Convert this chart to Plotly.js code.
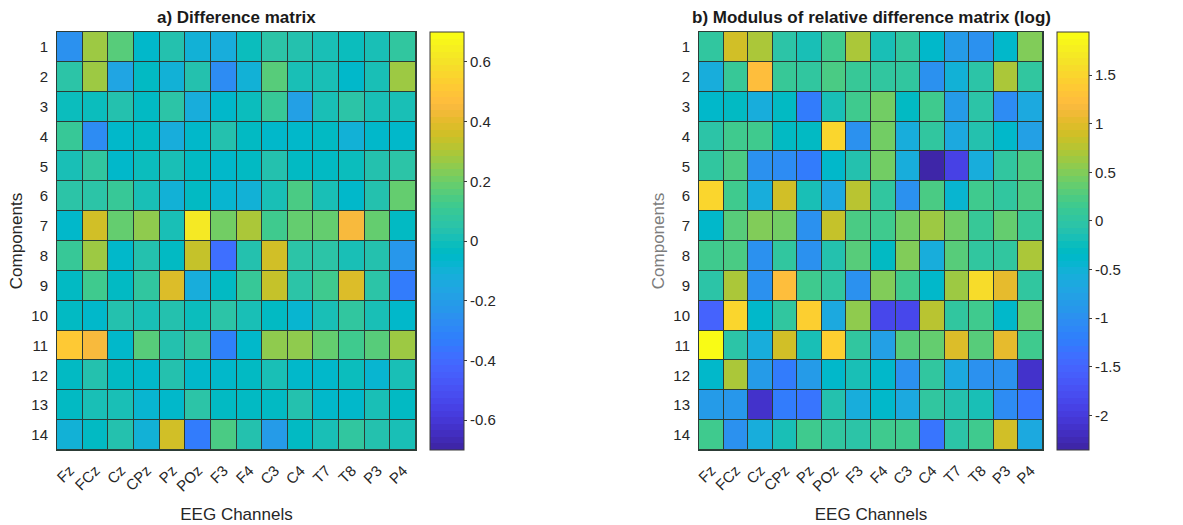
<!DOCTYPE html>
<html>
<head>
<meta charset="utf-8">
<script src="https://cdn.plot.ly/plotly-3.0.1.min.js"></script>
<style>
  html, body { margin: 0; padding: 0; background: #ffffff; }
  #chart { width: 1183px; height: 525px; }
</style>
</head>
<body>
<div id="chart"></div>
<script>
// EEG channel labels (x) and component indices (y)
const channels = ["Fz", "FCz", "Cz", "CPz", "Pz", "POz", "F3", "F4", "C3", "C4", "T7", "T8", "P3", "P4"];
const components = [1, 2, 3, 4, 5, 6, 7, 8, 9, 10, 11, 12, 13, 14];

// a) Difference matrix, one row per component
const diffValues = [
  [-0.25, 0.27, 0.17, -0.05, 0.03, -0.10, -0.13, -0.02, 0.05, 0.03, 0.02, -0.02, 0.01, 0.08],
  [0.05, 0.27, -0.17, -0.04, -0.10, 0.03, -0.28, -0.10, 0.16, 0.02, 0.01, -0.05, 0.00, 0.27],
  [-0.01, -0.01, 0.03, -0.04, 0.05, -0.11, -0.05, -0.02, 0.10, -0.18, 0.01, 0.06, 0.01, 0.01],
  [0.10, -0.27, -0.05, -0.04, -0.11, -0.05, 0.03, -0.03, -0.05, -0.06, -0.04, -0.09, -0.05, -0.05],
  [0.01, 0.08, -0.05, -0.01, 0.01, -0.03, -0.06, -0.04, 0.03, -0.03, -0.04, -0.02, 0.03, 0.05],
  [0.05, 0.06, 0.10, 0.00, -0.09, -0.04, -0.08, -0.09, 0.00, 0.15, 0.00, -0.06, 0.04, 0.19],
  [-0.05, 0.37, 0.19, 0.25, 0.01, 0.63, 0.20, 0.30, 0.12, 0.18, 0.19, 0.45, 0.18, -0.03],
  [0.10, 0.27, -0.05, 0.04, -0.04, 0.33, -0.38, 0.03, 0.35, 0.05, 0.05, 0.00, 0.03, -0.24],
  [-0.04, 0.11, -0.04, 0.08, 0.39, -0.11, -0.04, 0.10, 0.33, 0.06, 0.12, 0.39, 0.06, -0.33],
  [-0.04, -0.05, 0.04, 0.01, 0.04, -0.02, 0.06, 0.00, -0.04, -0.07, 0.02, 0.08, 0.01, -0.05],
  [0.51, 0.45, -0.06, 0.17, 0.04, 0.07, -0.31, -0.05, 0.26, 0.26, 0.18, 0.12, 0.17, 0.28],
  [-0.04, 0.03, -0.04, -0.05, 0.03, -0.05, -0.06, -0.04, 0.01, -0.06, -0.05, -0.02, -0.07, 0.00],
  [-0.04, 0.01, 0.00, -0.07, -0.05, 0.05, -0.04, -0.04, -0.03, 0.04, -0.05, -0.06, 0.00, -0.04],
  [-0.10, -0.03, 0.03, -0.10, 0.36, -0.35, 0.15, 0.03, -0.20, -0.03, 0.02, 0.08, 0.03, 0.01]
];

// b) log10 of the modulus of the relative difference, one row per component
const relDiffLog = [
  [0.00, 0.87, 0.73, -0.07, -0.14, 0.13, 0.73, -0.14, 0.00, -0.35, -0.82, -0.95, -0.35, 0.47],
  [-0.55, 0.10, 1.25, 0.10, 0.00, 0.25, 0.10, 0.00, 0.00, -0.95, -0.50, -0.07, 0.73, 0.05],
  [-0.35, -0.30, -0.60, -0.33, -1.25, -0.14, 0.18, 0.42, -0.30, 0.13, -0.82, -0.07, -1.05, -0.65],
  [-0.07, 0.13, 0.13, -0.30, -0.30, 1.52, -0.95, 0.42, -0.55, 0.02, -0.65, -0.10, -0.35, -0.80],
  [0.05, 0.25, -0.95, -1.05, -1.25, -0.38, -0.10, 0.42, -0.58, -2.356, -1.92, -0.58, 0.00, 0.22],
  [1.52, 0.15, -0.60, 0.87, -0.14, -0.65, 0.80, 0.05, -1.00, 0.22, -0.45, 0.15, 0.05, 0.20],
  [-0.38, 0.30, 0.53, 0.42, -0.95, 0.82, 0.25, 0.18, 0.42, 0.65, 0.42, 0.10, 0.37, 0.10],
  [0.13, 0.22, -0.95, 0.00, -0.95, -0.10, 0.30, -0.33, 0.53, -0.55, 0.30, 0.00, 0.02, 0.73],
  [-0.07, 0.73, -0.95, 1.25, 0.18, 0.00, -0.95, 0.53, 0.13, -0.38, 0.65, 1.60, 1.05, 0.00],
  [-1.50, 1.48, -0.38, 0.00, 1.42, -0.65, 0.60, -1.85, -1.82, 0.80, 0.00, 0.18, -0.35, 0.37],
  [1.944, -0.07, -0.55, 0.87, -0.14, 1.45, 0.00, -0.80, 0.32, 0.37, 0.96, 0.32, 1.05, 0.18],
  [-0.35, 0.73, -0.85, -1.25, -0.85, -0.38, -0.14, -0.38, -0.98, 0.02, -0.65, -0.98, -0.98, -2.15],
  [-0.82, -0.90, -2.12, -1.22, -1.30, -0.10, -0.55, -0.38, -0.65, 0.00, -0.10, -0.14, -1.05, -1.30],
  [0.13, -0.98, -0.55, -0.20, 0.13, 0.02, -0.07, 0.13, 0.13, -1.30, -0.07, 0.13, 0.87, -0.62]
];

// Colour bar tick values and labels
const diffTicks = [-0.6, -0.4, -0.2, 0, 0.2, 0.4, 0.6];
const diffTickText = ["-0.6", "-0.4", "-0.2", "0", "0.2", "0.4", "0.6"];
const logTicks = [-2, -1.5, -1, -0.5, 0, 0.5, 1, 1.5];
const logTickText = ["-2", "-1.5", "-1", "-0.5", "0", "0.5", "1", "1.5"];

// 64-entry parula colormap
const parula64 = [
  [0.2422,0.1504,0.6603],[0.2504,0.1650,0.7076],[0.2578,0.1818,0.7511],[0.2647,0.1978,0.7952],
  [0.2706,0.2147,0.8364],[0.2751,0.2342,0.8710],[0.2783,0.2559,0.8991],[0.2803,0.2782,0.9221],
  [0.2813,0.3006,0.9414],[0.2810,0.3228,0.9579],[0.2795,0.3447,0.9717],[0.2760,0.3667,0.9829],
  [0.2699,0.3892,0.9906],[0.2602,0.4123,0.9952],[0.2440,0.4358,0.9988],[0.2206,0.4603,0.9973],
  [0.1963,0.4847,0.9892],[0.1834,0.5074,0.9798],[0.1786,0.5289,0.9682],[0.1764,0.5499,0.9520],
  [0.1687,0.5703,0.9359],[0.1540,0.5902,0.9218],[0.1460,0.6091,0.9079],[0.1380,0.6276,0.8973],
  [0.1248,0.6459,0.8883],[0.1113,0.6635,0.8763],[0.0952,0.6798,0.8598],[0.0689,0.6948,0.8394],
  [0.0297,0.7082,0.8163],[0.0036,0.7203,0.7917],[0.0067,0.7312,0.7660],[0.0433,0.7411,0.7394],
  [0.0964,0.7500,0.7120],[0.1408,0.7584,0.6842],[0.1717,0.7670,0.6554],[0.1938,0.7758,0.6251],
  [0.2161,0.7843,0.5923],[0.2470,0.7918,0.5567],[0.2906,0.7973,0.5188],[0.3406,0.8008,0.4789],
  [0.3909,0.8029,0.4354],[0.4456,0.8024,0.3909],[0.5044,0.7993,0.3480],[0.5616,0.7942,0.3045],
  [0.6174,0.7876,0.2612],[0.6720,0.7793,0.2227],[0.7242,0.7698,0.1910],[0.7738,0.7598,0.1646],
  [0.8203,0.7498,0.1535],[0.8634,0.7406,0.1596],[0.9035,0.7330,0.1774],[0.9393,0.7288,0.2100],
  [0.9728,0.7298,0.2394],[0.9956,0.7434,0.2371],[0.9970,0.7659,0.2199],[0.9952,0.7893,0.2028],
  [0.9892,0.8136,0.1885],[0.9786,0.8386,0.1766],[0.9676,0.8639,0.1643],[0.9610,0.8890,0.1537],
  [0.9597,0.9135,0.1423],[0.9628,0.9373,0.1265],[0.9691,0.9606,0.1064],[0.9769,0.9839,0.0805]
];

// Stepped colourscale: each of the 64 colours covers an equal band
function steppedScale(cmap) {
  const n = cmap.length, out = [];
  cmap.forEach((c, i) => {
    const rgb = 'rgb(' + c.map(v => Math.round(v * 255)).join(',') + ')';
    out.push([i / n, rgb]);
    out.push([(i + 1) / n, rgb]);
  });
  return out;
}
const parulaScale = steppedScale(parula64);

const W = 1183, H = 525;
const FONT = "Liberation Sans, Arial, Helvetica, sans-serif";
const TXT = "#262626";
const EDGE = "#2c3c36";

const plotTop = 32, plotBottom = 450;
const left = { x0: 57, x1: 416, cb: 430, cbw: 34 };
const right = { x0: 699, x1: 1043, cb: 1057, cbw: 32 };

function colorbar(pos, ticks, text) {
  return {
    x: pos.cb / W, xref: 'paper', xanchor: 'left',
    y: 1 - plotTop / H, yref: 'paper', yanchor: 'top',
    len: (plotBottom - plotTop) / H, lenmode: 'fraction',
    thickness: pos.cbw, thicknessmode: 'pixels',
    xpad: 0, ypad: 0,
    outlinewidth: 1, outlinecolor: '#3a3a3a',
    ticks: 'outside', ticklen: 3, tickcolor: '#3a3a3a',
    tickvals: ticks, ticktext: text,
    tickfont: { family: FONT, size: 15, color: TXT }
  };
}

const traces = [
  {
    type: 'heatmap', x: channels, y: components, z: diffValues,
    xaxis: 'x', yaxis: 'y',
    zmin: -0.7, zmax: 0.7, colorscale: parulaScale,
    xgap: 1, ygap: 1,
    colorbar: colorbar(left, diffTicks, diffTickText)
  },
  {
    type: 'heatmap', x: channels, y: components, z: relDiffLog,
    xaxis: 'x2', yaxis: 'y2',
    zmin: -2.356, zmax: 1.944, colorscale: parulaScale,
    xgap: 1, ygap: 1,
    colorbar: colorbar(right, logTicks, logTickText)
  }
];

function xAxis(pos, anchor) {
  return {
    domain: [pos.x0 / W, pos.x1 / W], anchor: anchor,
    type: 'category', tickangle: -45,
    showline: true, linecolor: EDGE, linewidth: 1, mirror: true,
    showgrid: false, zeroline: false, ticks: '', ticklabelstandoff: 5,
    tickfont: { family: FONT, size: 15, color: TXT },
    title: { text: 'EEG Channels', font: { family: FONT, size: 17, color: TXT }, standoff: 14 },
    automargin: false
  };
}
function yAxis(anchor, titleColor) {
  return {
    domain: [1 - plotBottom / H, 1 - plotTop / H], anchor: anchor,
    range: [14.5, 0.5], tickmode: 'array', tickvals: components,
    showline: true, linecolor: EDGE, linewidth: 1, mirror: true,
    showgrid: false, zeroline: false, ticks: '', ticklabelstandoff: 5,
    tickfont: { family: FONT, size: 15, color: TXT },
    title: { text: 'Components', font: { family: FONT, size: 17, color: titleColor }, standoff: 4 },
    automargin: false
  };
}

const layout = {
  width: W, height: H,
  margin: { l: 0, r: 0, t: 0, b: 0 },
  paper_bgcolor: '#ffffff', plot_bgcolor: EDGE,
  showlegend: false,
  xaxis: xAxis(left, 'y'), yaxis: yAxis('x', TXT),
  xaxis2: xAxis(right, 'y2'), yaxis2: yAxis('x2', '#7c7c7c'),
  annotations: [
    {
      text: 'a) Difference matrix', xref: 'paper', yref: 'paper',
      x: (left.x0 + left.x1) / 2 / W, y: 1 - 17 / H, xanchor: 'center', yanchor: 'middle',
      showarrow: false, font: { family: FONT, size: 17, weight: 'bold', color: '#1a1a1a' }
    },
    {
      text: 'b) Modulus of relative difference matrix (log)', xref: 'paper', yref: 'paper',
      x: (right.x0 + right.x1) / 2 / W, y: 1 - 17 / H, xanchor: 'center', yanchor: 'middle',
      showarrow: false, font: { family: FONT, size: 17, weight: 'bold', color: '#1a1a1a' }
    }
  ]
};

Plotly.newPlot('chart', traces, layout, { staticPlot: true, displayModeBar: false });
</script>
</body>
</html>
